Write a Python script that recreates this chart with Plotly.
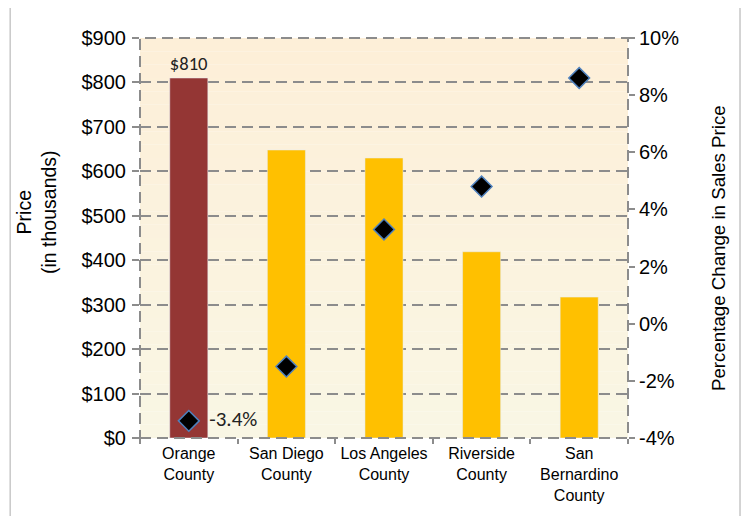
import plotly.graph_objects as go

categories = ["Orange<br>County", "San Diego<br>County", "Los Angeles<br>County",
              "Riverside<br>County", "San<br>Bernardino<br>County"]
prices = [810, 648, 630, 419, 317]
pct_change = [-3.4, -1.5, 3.3, 4.8, 8.6]
bar_colors = ["#943634", "#FFC000", "#FFC000", "#FFC000", "#FFC000"]
price_ticks = list(range(0, 901, 100))
pct_ticks = list(range(-4, 11, 2))

FONT = "Liberation Sans, Arial, sans-serif"
LABEL_FONT = "Carlito, Calibri, Open Sans, sans-serif"
GRID = "#8c8c8c"
DASH = "11px,6px"

fig = go.Figure()

# gradient background bands
n = 30
top = (253, 239, 216)
bot = (249, 246, 228)
for i in range(n):
    t = i / (n - 1)
    c = tuple(round(top[k] + (bot[k] - top[k]) * t) for k in range(3))
    fig.add_shape(type="rect", xref="paper", yref="paper",
                  x0=0, x1=1, y0=1 - (i + 1) / n, y1=1 - i / n,
                  fillcolor="rgb(%d,%d,%d)" % c, line_width=0, layer="below")

fig.add_trace(go.Bar(
    x=categories, y=prices, marker_color=bar_colors, width=0.39,
    text=["$%d" % prices[0]] + [""] * (len(prices) - 1),
    textposition="outside", cliponaxis=False,
    textfont=dict(family=LABEL_FONT, size=21, color="#222"),
    showlegend=False,
))

fig.add_trace(go.Scatter(
    x=categories, y=pct_change, yaxis="y2", mode="markers+text",
    marker=dict(symbol="diamond", size=16, color="black",
                line=dict(color="#4F81BD", width=1.5)),
    text=["  %.1f%%" % pct_change[0]] + [""] * (len(pct_change) - 1),
    textposition="middle right",
    textfont=dict(family=LABEL_FONT, size=21, color="#222"),
    showlegend=False, cliponaxis=False,
))

# dashed plot frame
fig.add_shape(type="rect", xref="paper", yref="paper", x0=0, x1=1, y0=0, y1=1,
              line=dict(color=GRID, width=2, dash=DASH), layer="above")
# outer border
fig.add_shape(type="rect", xref="paper", yref="paper",
              x0=-0.266, x1=1.2295, y0=-0.21, y1=1.0775,
              line=dict(color="#c8c8c8", width=1.5), layer="below")
fig.add_shape(type="line", xref="paper", yref="paper",
              x0=1.2345, x1=1.2345, y0=-0.21, y1=1.07,
              line=dict(color="#b0b0b0", width=3), layer="below")

fig.add_annotation(text="Price<br>(in thousands)", xref="paper", yref="paper",
                   x=(36 - 140) / 488, y=(438 - 212) / 400, textangle=-90,
                   showarrow=False, font=dict(size=19.5), xanchor="center", yanchor="middle")
fig.add_annotation(text="Percentage Change in Sales Price", xref="paper", yref="paper",
                   x=(718 - 140) / 488, y=(438 - 248) / 400, textangle=-90,
                   showarrow=False, font=dict(size=18.7), xanchor="center", yanchor="middle")

fig.update_layout(
    width=741, height=508,
    margin=dict(l=132, r=121, t=30, b=78, autoexpand=False),
    paper_bgcolor="white", plot_bgcolor="rgba(0,0,0,0)",
    font=dict(family=FONT, size=18, color="black"),
    xaxis=dict(
        showgrid=False, ticks="outside", tickson="boundaries",
        ticklen=5, tickcolor=GRID, tickwidth=1.5,
        tickfont=dict(family=FONT, size=16, color="black"),
        ticklabelstandoff=4,
        showline=False, automargin=False,
    ),
    yaxis=dict(
        range=[0, 900], tickvals=price_ticks,
        ticktext=["$%d" % v for v in price_ticks],
        tickfont=dict(family=FONT, size=20, color="black"),
        showgrid=True, gridcolor=GRID, gridwidth=2, griddash=DASH,
        ticks="outside", ticklen=7, tickcolor=GRID, tickwidth=1.5,
        ticklabelstandoff=2,
        zeroline=False, showline=False, automargin=False,
    ),
    yaxis2=dict(
        overlaying="y", side="right", range=[-4, 10], tickvals=pct_ticks,
        ticktext=["%d%%" % v for v in pct_ticks],
        tickfont=dict(family=FONT, size=20, color="black"),
        showgrid=False, zeroline=False, showline=False, automargin=False,
        ticks="outside", ticklen=6, tickcolor=GRID, tickwidth=1.5,
    ),
)

fig.write_html("out.html")
